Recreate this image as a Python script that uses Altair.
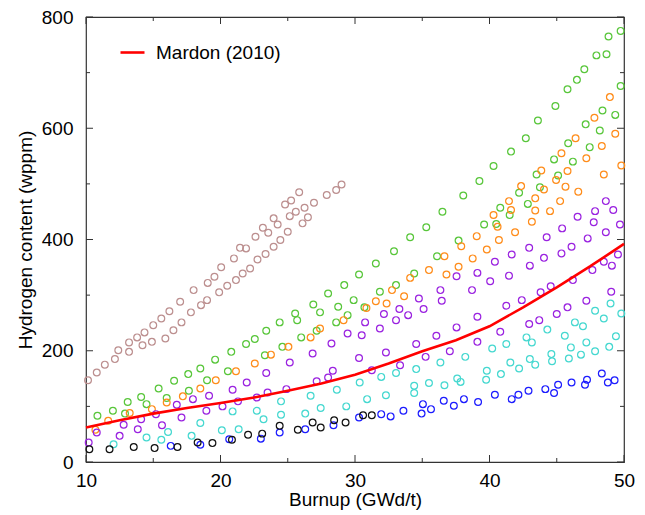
import altair as alt
import pandas as pd

# ---------------- data ----------------
brown_x = [10.15, 10.8, 11.4, 12.15, 12.4, 13.2, 13.2, 13.8, 14.2, 14.35, 14.9, 15.0, 15.6, 15.9, 16.2, 16.5,
           17.0, 17.1, 17.8, 18.0, 18.55, 19.0, 19.05, 19.55, 19.9, 20.05, 20.5, 21.0, 21.15, 21.45, 21.65,
           21.9, 22.2, 22.6, 22.75, 23.15, 23.35, 23.55, 23.95, 23.95, 24.25, 24.45, 24.8, 25.0, 25.15, 25.25,
           25.6, 25.85, 26.1, 26.25, 26.5, 26.95, 27.9, 28.6, 29.0]
brown_y = [147, 161, 175, 185, 201, 198, 215, 224, 210, 233, 216, 246, 258, 222, 271, 237,
           288, 251, 269, 309, 282, 291, 322, 333, 305, 350, 317, 366, 327, 385, 339,
           384, 348, 405, 364, 421, 374, 412, 438, 387, 427, 399, 463, 414, 442, 470,
           450, 485, 429, 457, 440, 466, 480, 489, 499]

green_x = [10.85, 12.0, 12.9, 13.1, 14.1, 14.5, 15.4, 16.0, 16.55, 17.6, 17.65, 18.5, 19.0, 19.6, 20.55,
           20.8, 21.9, 22.55, 23.3, 23.4, 24.4, 24.6, 25.55, 25.7, 26.0, 26.9, 27.15, 27.4, 28.0, 28.6,
           28.75, 29.2, 29.45, 29.9, 30.3, 30.7, 31.55, 31.85, 32.9, 33.05, 34.1, 34.4, 35.3, 36.1, 36.5,
           37.7, 38.05, 39.25, 39.6, 40.3, 40.5, 40.8, 41.5, 41.6, 42.2, 42.7, 42.85, 43.5, 43.6, 43.75,
           44.8, 44.9, 45.1, 45.8, 45.85, 46.2, 46.5, 47.05, 47.15, 47.45, 47.95, 48.2, 48.4, 48.7, 48.85,
           49.35, 49.75, 49.75]
green_y = [83, 92, 87, 108, 117, 104, 132, 115, 146, 158, 128, 168, 147, 184, 163,
           198, 212, 221, 192, 236, 251, 207, 267, 255, 224, 283, 236, 269, 303, 251,
           279, 318, 264, 291, 337, 278, 357, 306, 379, 318, 404, 339, 422, 370, 450,
           398, 479, 505, 427, 532, 428, 457, 444, 558, 484, 582, 464, 517, 614, 494,
           544, 640, 515, 670, 573, 540, 687, 706, 607, 566, 731, 596, 632, 733, 765,
           624, 775, 676]

orange_x = [10.7, 11.65, 13.25, 14.9, 16.0, 17.2, 18.5, 19.65, 21.15, 22.55, 23.75, 25.05, 26.7, 27.4,
            29.15, 30.85, 31.55, 32.35, 32.75, 33.65, 34.1, 35.5, 36.65, 36.8, 37.7, 37.9, 38.75, 39.05,
            39.8, 40.3, 40.6, 40.7, 41.45, 41.6, 41.9, 42.35, 43.15, 43.4, 43.4, 43.85, 44.05, 44.5, 44.95,
            45.25, 45.35, 45.65, 45.8, 46.4, 46.6, 47.2, 47.8, 48.35, 48.5, 48.95, 49.35, 49.8]
orange_y = [58, 74, 88, 95, 107, 118, 132, 147, 163, 177, 193, 207, 224, 240,
            255, 277, 289, 285, 309, 298, 331, 345, 370, 337, 351, 388, 366, 406,
            382, 444, 423, 399, 469, 453, 413, 496, 432, 474, 452, 524, 490, 451, 507,
            469, 555, 495, 523, 582, 486, 546, 619, 568, 517, 656, 590, 533]

purple_x = [10.2, 10.8, 12.5, 12.8, 13.85, 14.1, 15.2, 15.65, 16.75, 17.1, 17.95, 18.95, 19.15, 20.15,
            20.9, 21.3, 21.95, 22.7, 23.4, 23.5, 24.9, 25.15, 26.85, 27.15, 28.0, 28.25, 28.35, 29.45,
            30.3, 30.5, 30.75, 31.25, 31.85, 32.15, 32.3, 33.05, 33.3, 33.35, 33.95, 34.55, 34.75, 35.1,
            35.25, 36.05, 36.35, 36.45, 37.05, 37.55, 37.55, 38.7, 39.1, 39.1, 39.1, 40.05, 40.4, 40.8,
            41.25, 41.45, 41.65, 42.4, 42.95, 43.0, 42.95, 43.7, 43.8, 44.05, 44.25, 44.55, 45.0, 45.35,
            45.4, 45.8, 46.1, 46.2, 46.55, 47.2, 47.3, 47.65, 47.75, 47.85, 48.5, 48.65, 48.65, 49.05,
            49.1, 49.2, 49.55, 49.7]
purple_y = [35, 53, 47, 67, 59, 77, 86, 66, 103, 80, 113, 92, 119, 100,
            130, 109, 143, 116, 160, 125, 131, 179, 195, 145, 152, 213, 164, 231,
            187, 228, 251, 165, 240, 266, 197, 255, 275, 174, 264, 212, 294, 275,
            189, 227, 309, 290, 199, 334, 242, 309, 340, 261, 216, 325, 360, 234,
            281, 335, 373, 291, 385, 353, 248, 255, 305, 367, 404, 316, 266, 375,
            420, 278, 387, 327, 441, 290, 402, 345, 431, 451, 360, 413, 469, 306,
            353, 453, 373, 427]

cyan_x = [12.05, 14.5, 15.6, 16.1, 17.85, 18.5, 20.1, 20.9, 21.35, 22.7, 23.2, 24.5, 24.5, 26.3, 26.7,
          27.45, 28.65, 29.35, 30.35, 30.9, 31.95, 32.3, 33.05, 34.4, 34.4, 34.55, 35.5, 36.35, 36.65,
          37.6, 37.85, 38.2, 39.75, 39.8, 40.2, 40.85, 41.25, 41.55, 42.2, 42.75, 43.0, 43.15, 43.4, 44.3,
          44.6, 44.65, 45.6, 45.9, 46.05, 46.35, 46.8, 46.95, 47.2, 47.85, 47.85, 48.5, 48.9, 49.0, 49.4,
          49.8]
cyan_y = [32, 44, 40, 54, 47, 70, 57, 91, 59, 92, 77, 109, 85, 87, 119,
          97, 130, 100, 143, 113, 153, 120, 160, 137, 124, 167, 142, 179, 138,
          150, 144, 189, 148, 164, 204, 158, 212, 179, 168, 224, 185, 215, 175, 238,
          194, 181, 227, 186, 206, 251, 193, 244, 215, 199, 272, 258, 207, 285, 226,
          267]

blue_x = [16.3, 18.5, 20.65, 23.0, 24.4, 26.3, 28.4, 30.3, 31.95, 32.65, 33.6, 34.95, 35.05, 35.65, 36.6,
          37.35, 38.1, 39.15, 40.4, 41.65, 42.15, 42.9, 44.15, 44.8, 45.1, 46.1, 47.1, 47.25, 48.35, 48.8,
          49.3]
blue_y = [29, 31, 41, 42, 53, 59, 66, 80, 86, 82, 92, 87, 104, 95, 110,
          101, 113, 108, 121, 113, 121, 128, 131, 124, 139, 143, 139, 148, 159, 143,
          147]

black_x = [10.25, 11.75, 13.55, 15.1, 16.8, 18.3, 19.4, 20.85, 22.05, 23.1, 24.4, 25.75, 26.85, 27.45,
           28.45, 29.3, 30.6, 31.25]
black_y = [23, 23, 27, 25, 27, 35, 34, 40, 49, 51, 65, 58, 71, 62,
           75, 71, 84, 84]

series_names = ["brown", "green", "orange", "purple", "cyan", "blue", "black"]
series_colors = ["#bc8f8f", "#58c63a", "#ff8c1a", "#9a22e0", "#45d8d0", "#1c1cff", "#111111"]

mardon_label = "Mardon (2010)"
mardon_x = [10, 12.5, 15, 17.5, 20, 22.5, 25, 27.5, 30, 32.5, 35, 37.5, 40, 42.5, 45, 47.5, 50]
mardon_y = [62, 75, 87, 97, 106, 116, 128, 141, 157, 177, 199, 219, 244, 278, 314, 352, 392]

x_major = [10, 20, 30, 40, 50]
x_minor = [15, 25, 35, 45]
y_major = [0, 200, 400, 600, 800]
y_minor = [100, 300, 500, 700]

# ---------------- tables ----------------
all_series = [brown_x, green_x, orange_x, purple_x, cyan_x, blue_x, black_x]
all_values = [brown_y, green_y, orange_y, purple_y, cyan_y, blue_y, black_y]
rows = []
for name, xs, ys in zip(series_names, all_series, all_values):
    for xv, yv in zip(xs, ys):
        rows.append({"x": xv, "y": yv, "series": name})
pts = pd.DataFrame(rows)
line_df = pd.DataFrame({"x": mardon_x, "y": mardon_y, "label": mardon_label})

# ---------------- chart ----------------
W, H = 538, 445
FONT = "Liberation Sans"
FRAME = "#333333"
MAJ, MIN = 7, 4

xscale = alt.Scale(domain=[10, 50], nice=False, zero=False)
yscale = alt.Scale(domain=[0, 800], nice=False, zero=False)

points = alt.Chart(pts).mark_point(filled=False, size=46, strokeWidth=1.2, opacity=1).encode(
    x=alt.X("x:Q", scale=xscale,
            axis=alt.Axis(orient="bottom", values=x_major, ticks=False, tickSize=0, domain=False,
                          grid=False, labelFlush=False, labelFontSize=19, labelFont=FONT,
                          labelColor="black", labelPadding=9, title="Burnup (GWd/t)",
                          titleFontSize=19, titleFont=FONT, titleFontWeight="normal",
                          titleColor="black", titleY=37, titleBaseline="middle")),
    y=alt.Y("y:Q", scale=yscale,
            axis=alt.Axis(orient="left", values=y_major, ticks=False, tickSize=0, domain=False,
                          grid=False, labelFlush=False, labelFontSize=19, labelFont=FONT,
                          labelColor="black", labelPadding=13, title="Hydrogen content (wppm)",
                          titleFontSize=19, titleFont=FONT, titleFontWeight="normal",
                          titleColor="black", titleX=-61, titleBaseline="middle")),
    color=alt.Color("series:N", scale=alt.Scale(domain=series_names, range=series_colors), legend=None),
)

line = alt.Chart(line_df).mark_line(strokeWidth=2.6).encode(
    x=alt.X("x:Q", scale=xscale, axis=None),
    y=alt.Y("y:Q", scale=yscale, axis=None),
    stroke=alt.Stroke("label:N", scale=alt.Scale(domain=[mardon_label], range=["#ff0000"]),
                      legend=alt.Legend(orient="none", legendX=33, legendY=22, title=None,
                                        labelFontSize=19, labelFont=FONT, labelColor="black",
                                        symbolType="stroke", symbolSize=576, symbolStrokeWidth=2.6,
                                        labelOffset=10, padding=0)),
)


def xticks(vals, y_from, y_to):
    df = pd.DataFrame({"v": vals})
    return alt.Chart(df).mark_rule(color=FRAME, strokeWidth=1).encode(
        x=alt.X("v:Q", scale=xscale, axis=None),
        y=alt.value(y_from), y2=alt.value(y_to),
    )


def yticks(vals, x_from, x_to):
    df = pd.DataFrame({"v": vals})
    return alt.Chart(df).mark_rule(color=FRAME, strokeWidth=1).encode(
        y=alt.Y("v:Q", scale=yscale, axis=None),
        x=alt.value(x_from), x2=alt.value(x_to),
    )


tick_layers = [
    xticks(x_major, H, H - MAJ), xticks(x_minor, H, H - MIN),
    xticks(x_major, 0, MAJ), xticks(x_minor, 0, MIN),
    yticks(y_major, 0, MAJ), yticks(y_minor, 0, MIN),
    yticks(y_major, W, W - MAJ), yticks(y_minor, W, W - MIN),
]

chart = alt.layer(points, line, *tick_layers).resolve_axis(
    x="independent", y="independent"
).properties(
    width=W, height=H,
    padding={"left": 78, "top": 9, "right": 12, "bottom": 48},
    autosize=alt.AutoSizeParams(type="none"),
).configure_view(stroke=FRAME, strokeWidth=1.2)

chart.save("out.html", embed_options={"renderer": "svg", "actions": False})
